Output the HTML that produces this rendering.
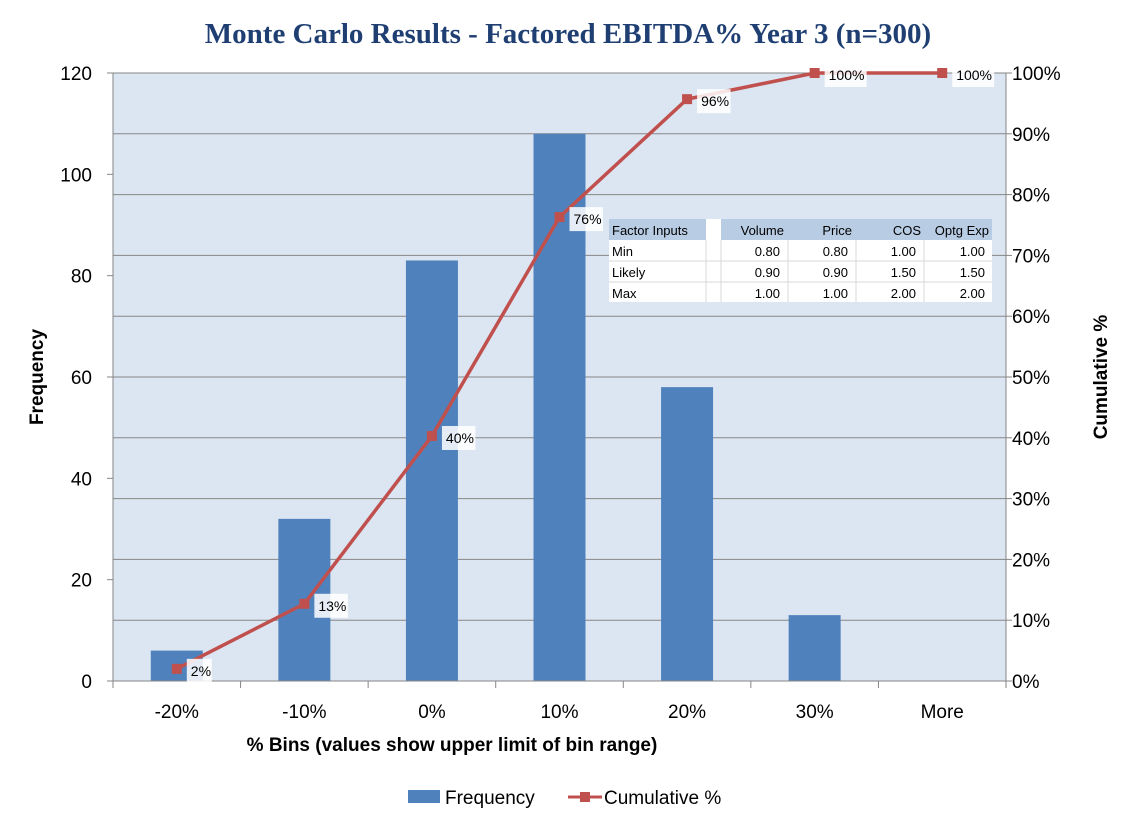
<!DOCTYPE html>
<html><head><meta charset="utf-8">
<style>
body{margin:0;background:#fff;width:1138px;height:821px;overflow:hidden;font-family:"Liberation Sans",Calibri,sans-serif;}
svg text{font-family:"Liberation Sans",sans-serif;}
</style></head>
<body>
<svg id="chart" width="1138" height="821" xmlns="http://www.w3.org/2000/svg">
<text x="568" y="43" text-anchor="middle" font-family="Liberation Serif,serif" style="font-family:'Liberation Serif',serif" font-size="29" font-weight="bold" fill="#1f3f73">Monte Carlo Results - Factored EBITDA% Year 3 (n=300)</text>
<rect x="113" y="73" width="893" height="608" fill="#dce6f2"/>
<g id="grid"></g><g id="bars"></g><g id="axes"></g><g id="line"></g>
<text transform="translate(43,377) rotate(-90)" text-anchor="middle" font-size="19" font-weight="bold">Frequency</text>
<text transform="translate(1107,377) rotate(-90)" text-anchor="middle" font-size="19" font-weight="bold">Cumulative %</text>
<text x="452" y="751" text-anchor="middle" font-size="19" font-weight="bold">% Bins (values show upper limit of bin range)</text>
<g>
<rect x="408" y="790" width="32" height="13" fill="#4f81bd"/>
<text x="445" y="804" font-size="19">Frequency</text>
<line x1="568" y1="797" x2="602" y2="797" stroke="#c0504d" stroke-width="3"/>
<rect x="580" y="792" width="10" height="10" fill="#c0504d"/>
<text x="604" y="804" font-size="19">Cumulative %</text>
</g>
<g font-size="13">
<rect x="609" y="219" width="383" height="83" fill="#fff"/>
<rect x="609" y="219" width="97" height="21" fill="#b8cce4"/>
<rect x="721" y="219" width="271" height="21" fill="#b8cce4"/>
<g stroke="#d9d9d9" stroke-width="1">
<line x1="609" y1="261" x2="992" y2="261"/><line x1="609" y1="282" x2="992" y2="282"/>
<line x1="706" y1="240" x2="706" y2="302"/><line x1="721" y1="240" x2="721" y2="302"/>
<line x1="788" y1="240" x2="788" y2="302"/><line x1="856" y1="240" x2="856" y2="302"/><line x1="924" y1="240" x2="924" y2="302"/>
</g>
<text x="612" y="235">Factor Inputs</text><text x="784" y="235" text-anchor="end">Volume</text><text x="852" y="235" text-anchor="end">Price</text><text x="921" y="235" text-anchor="end">COS</text><text x="989" y="235" text-anchor="end">Optg Exp</text>
<text x="612" y="256">Min</text><text x="780" y="256" text-anchor="end">0.80</text><text x="848" y="256" text-anchor="end">0.80</text><text x="916" y="256" text-anchor="end">1.00</text><text x="985" y="256" text-anchor="end">1.00</text>
<text x="612" y="277">Likely</text><text x="780" y="277" text-anchor="end">0.90</text><text x="848" y="277" text-anchor="end">0.90</text><text x="916" y="277" text-anchor="end">1.50</text><text x="985" y="277" text-anchor="end">1.50</text>
<text x="612" y="298">Max</text><text x="780" y="298" text-anchor="end">1.00</text><text x="848" y="298" text-anchor="end">1.00</text><text x="916" y="298" text-anchor="end">2.00</text><text x="985" y="298" text-anchor="end">2.00</text>
</g>
</svg>
<script>
const categories=["-20%","-10%","0%","10%","20%","30%","More"];
const frequency=[6,32,83,108,58,13,0];
const cumulative=[2.0,12.7,40.3,76.3,95.7,100,100];
const cumLabels=["2%","13%","40%","76%","96%","100%","100%"];
const leftTicks=[0,20,40,60,80,100,120];
const rightTicks=[0,10,20,30,40,50,60,70,80,90,100];
const NS="http://www.w3.org/2000/svg";
const L=113,R=1006,T=73,B=681;
const bw=(R-L)/categories.length;
const xc=i=>L+bw*(i+0.5);
const yL=v=>B-(v/120)*(B-T);
const yR=v=>B-(v/100)*(B-T);
function mk(tag,attrs,parent){const e=document.createElementNS(NS,tag);for(const k in attrs)e.setAttribute(k,attrs[k]);document.getElementById(parent).appendChild(e);return e;}
rightTicks.forEach(t=>{if(t>0){const g=mk('line',{x1:L,x2:R,y1:yR(t),y2:yR(t),stroke:'#868686','stroke-width':1},'grid');}
 const tl=mk('text',{x:1012,y:yR(t)+7,'font-size':19},'axes');tl.textContent=t+'%';
 mk('line',{x1:R,x2:R+6,y1:yR(t),y2:yR(t),stroke:'#868686'},'axes');});
leftTicks.forEach(t=>{const tl=mk('text',{x:92,y:yL(t)+7,'font-size':19,'text-anchor':'end'},'axes');tl.textContent=t;
 mk('line',{x1:L-6,x2:L,y1:yL(t),y2:yL(t),stroke:'#868686'},'axes');});
mk('line',{x1:L,x2:L,y1:T,y2:B,stroke:'#868686'},'axes');
mk('line',{x1:R,x2:R,y1:T,y2:B,stroke:'#868686'},'axes');
mk('line',{x1:L,x2:R,y1:B,y2:B,stroke:'#868686'},'axes');
for(let i=0;i<=categories.length;i++)mk('line',{x1:L+bw*i,x2:L+bw*i,y1:B,y2:B+7,stroke:'#868686'},'axes');
categories.forEach((c,i)=>{
 const b=mk('rect',{x:xc(i)-26,y:yL(frequency[i]),width:52,height:B-yL(frequency[i]),fill:'#4f81bd'},'bars');
 
 const t=mk('text',{x:xc(i),y:718,'font-size':19,'text-anchor':'middle'},'axes');t.textContent=c;
 });
const pts=cumulative.map((v,i)=>xc(i)+','+yR(v)).join(' ');
const pl=mk('polyline',{points:pts,fill:'none',stroke:'#c0504d','stroke-width':3.5},'line');

cumulative.forEach((v,i)=>{
 const m=mk('rect',{x:xc(i)-5,y:yR(v)-5,width:10,height:10,fill:'#c0504d'},'line');
 
 const w=cumLabels[i].length*8.5+8;
 mk('rect',{x:xc(i)+10,y:yR(v)-10,width:w,height:24,fill:'#fff',opacity:0.85},'line');
 const t=mk('text',{x:xc(i)+14,y:yR(v)+7,'font-size':14},'line');t.textContent=cumLabels[i];
 });
</script>
</body></html>
